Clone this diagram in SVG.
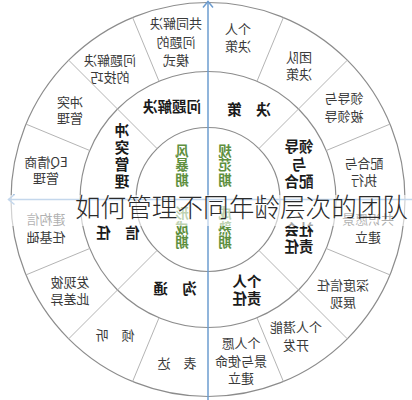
<svg xmlns="http://www.w3.org/2000/svg" width="412" height="400" viewBox="0 0 412 400">
<style>
.ring{fill:none;stroke:#8c8c8c;stroke-width:1.2}
.div{stroke:#b4b4b4;stroke-width:1;fill:none}
.axis{stroke:#6d9ccf;stroke-width:1.5;fill:none}
.o{font-family:"Noto Sans CJK SC","Noto Sans",sans-serif;font-size:13px;fill:#3a3a3a;text-anchor:middle}
.m{font-family:"Noto Sans CJK SC","Noto Sans",sans-serif;font-size:14.5px;font-weight:bold;fill:#1a1a1a;text-anchor:middle}
.i{font-family:"Noto Sans CJK SC","Noto Sans",sans-serif;font-size:13.5px;font-weight:bold;fill:#5e8f3e;text-anchor:middle}
.title{font-family:"Noto Sans CJK SC","Noto Sans",sans-serif;font-size:25.6px;font-weight:300;fill:#2b2b2b}
</style>
<rect width="412" height="400" fill="#ffffff"/>
<g id="connectors">
<circle class="ring" cx="208" cy="199.5" r="197"/>
<circle class="ring" cx="208" cy="199.5" r="128"/>
<circle class="ring" cx="208" cy="199.5" r="72"/>
<line class="div" x1="257" y1="81.2" x2="283.4" y2="17.5"/>
<line class="div" x1="326.3" y1="150.5" x2="390" y2="124.1"/>
<line class="div" x1="326.3" y1="248.5" x2="390" y2="274.9"/>
<line class="div" x1="257" y1="317.8" x2="283.4" y2="381.5"/>
<line class="div" x1="159" y1="317.8" x2="132.6" y2="381.5"/>
<line class="div" x1="89.7" y1="248.5" x2="26" y2="274.9"/>
<line class="div" x1="89.7" y1="150.5" x2="26" y2="124.1"/>
<line class="div" x1="159" y1="81.2" x2="132.6" y2="17.5"/>
<line class="div" x1="258.9" y1="148.6" x2="347.3" y2="60.2"/>
<line class="div" x1="258.9" y1="250.4" x2="347.3" y2="338.8"/>
<line class="div" x1="157.1" y1="250.4" x2="68.7" y2="338.8"/>
<line class="div" x1="157.1" y1="148.6" x2="68.7" y2="60.2"/>
<line class="axis" x1="208" y1="400" x2="208" y2="1.5"/>
<polyline class="axis" points="203,7.5 208,1.5 213,7.5"/>
<line class="axis" x1="412" y1="199.5" x2="8.5" y2="199.5"/>
<polyline class="axis" points="14.5,194.5 8.5,199.5 14.5,204.5"/>
</g>
<g id="diagram" transform="matrix(-1 0 0 1 416 0)">
<g id="o1"><text class="o" x="178"><tspan x="178" y="34">个人</tspan><tspan x="178" y="51">决策</tspan></text></g>
<g id="o2"><text class="o" x="117"><tspan x="117" y="62">团队</tspan><tspan x="117" y="79">决策</tspan></text></g>
<g id="o3"><text class="o" x="72"><tspan x="72" y="103">领导与</tspan><tspan x="72" y="121">被领导</tspan></text></g>
<g id="o4"><text class="o" x="52"><tspan x="52" y="168">配合与</tspan><tspan x="52" y="185">执行</tspan></text></g>
<g id="o5"><text class="o" x="48"><tspan x="48" y="224">共识愿景</tspan><tspan x="48" y="242">建立</tspan></text></g>
<g id="o6"><text class="o" x="73"><tspan x="73" y="290">深度信任</tspan><tspan x="73" y="307">展现</tspan></text></g>
<g id="o7"><text class="o" x="120"><tspan x="120" y="332">个人潜能</tspan><tspan x="120" y="350">开发</tspan></text></g>
<g id="o8"><text class="o" x="175"><tspan x="175" y="348">个人愿</tspan><tspan x="175" y="366">景与使命</tspan><tspan x="175" y="383">建立</tspan></text></g>
<g id="o9"><text class="o" x="239" y="368">表　达</text></g>
<g id="o10"><text class="o" x="301" y="340">倾　听</text></g>
<g id="o11"><text class="o" x="346"><tspan x="346" y="287">发现彼</tspan><tspan x="346" y="304">此差异</tspan></text></g>
<g id="o12"><text class="o" x="370"><tspan x="370" y="224">建构信</tspan><tspan x="370" y="242">任基础</tspan></text></g>
<g id="o13"><text class="o" x="370"><tspan x="370" y="167">EQ情商</tspan><tspan x="370" y="183">管理</tspan></text></g>
<g id="o14"><text class="o" x="346"><tspan x="346" y="107">冲突</tspan><tspan x="346" y="123">管理</tspan></text></g>
<g id="o15"><text class="o" x="306"><tspan x="306" y="65">问题解决</tspan><tspan x="306" y="82">的技巧</tspan></text></g>
<g id="o16"><text class="o" x="240"><tspan x="240" y="28">共同解决</tspan><tspan x="240" y="47">问题的</tspan><tspan x="240" y="65">模式</tspan></text></g>
<g id="m1"><text class="m" x="167" y="115">决　策</text></g>
<g id="m2"><text class="m" x="117"><tspan x="117" y="152">领导</tspan><tspan x="117" y="170">与</tspan><tspan x="117" y="187">配合</tspan></text></g>
<g id="m3"><text class="m" x="117"><tspan x="117" y="235">社会</tspan><tspan x="117" y="252">责任</tspan></text></g>
<g id="m4"><text class="m" x="169"><tspan x="169" y="287">个人</tspan><tspan x="169" y="304">责任</tspan></text></g>
<g id="m5"><text class="m" x="241" y="294">沟　通</text></g>
<g id="m6"><text class="m" x="298" y="238">信　任</text></g>
<g id="m7"><text class="m" x="294"><tspan x="294" y="136">冲</tspan><tspan x="294" y="153">突</tspan><tspan x="294" y="170">管</tspan><tspan x="294" y="187">理</tspan></text></g>
<g id="m8"><text class="m" x="244" y="112">问题解决</text></g>
<g id="i1"><text class="i" x="234"><tspan x="234" y="156">风</tspan><tspan x="234" y="170">暴</tspan><tspan x="234" y="185">期</tspan></text></g>
<g id="i2"><text class="i" x="191"><tspan x="191" y="156">规</tspan><tspan x="191" y="170">范</tspan><tspan x="191" y="185">期</tspan></text></g>
<g id="i3"><text class="i" x="234"><tspan x="234" y="218">形</tspan><tspan x="234" y="233">成</tspan><tspan x="234" y="247">期</tspan></text></g>
<g id="i4"><text class="i" x="191"><tspan x="191" y="218">成</tspan><tspan x="191" y="233">熟</tspan><tspan x="191" y="247">期</tspan></text></g>
</g>
<rect x="0" y="195" width="412" height="31" fill="#ffffff" fill-opacity="0.6"/>
<g id="title"><text class="title" x="75" y="217" textLength="333" lengthAdjust="spacingAndGlyphs">如何管理不同年龄层次的团队</text></g>
</svg>
